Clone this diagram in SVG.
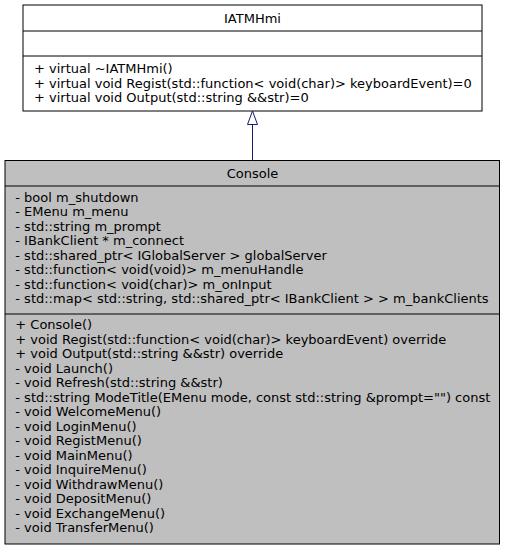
<svg xmlns="http://www.w3.org/2000/svg" width="505" height="551" viewBox="0 0 505 551">
<style>
text{font-family:"DejaVu Sans",sans-serif;font-size:13px;fill:#000}
.c{text-anchor:middle}
.box{stroke:#000;stroke-width:1}
.edge{stroke:#191970;stroke-width:1;fill:none}
</style>
<rect width="505" height="551" fill="#fff"/>
<g id="IATMHmi">
<rect class="box" x="23" y="5" width="459" height="106" fill="#fff"/>
<line class="box" x1="23" y1="31" x2="482" y2="31"/>
<line class="box" x1="23" y1="56" x2="482" y2="56"/>
<text class="c" x="252.5" y="22.5">IATMHmi</text>
<text x="34" y="73">+ virtual ~IATMHmi()</text>
<text x="34" y="87.5">+ virtual void Regist(std::function&lt; void(char)&gt; keyboardEvent)=0</text>
<text x="34" y="102">+ virtual void Output(std::string &amp;&amp;str)=0</text>
</g>
<g id="Console">
<rect class="box" x="5" y="160.5" width="494.5" height="383.5" fill="#bfbfbf"/>
<line class="box" x1="5" y1="186" x2="499.5" y2="186"/>
<line class="box" x1="5" y1="314" x2="499.5" y2="314"/>
<text class="c" x="252.5" y="177.5">Console</text>
<text x="15.3" y="201.5">- bool m_shutdown</text>
<text x="15.3" y="216">- EMenu m_menu</text>
<text x="15.3" y="230.5">- std::string m_prompt</text>
<text x="15.3" y="245">- IBankClient * m_connect</text>
<text x="15.3" y="259.5">- std::shared_ptr&lt; IGlobalServer &gt; globalServer</text>
<text x="15.3" y="274">- std::function&lt; void(void)&gt; m_menuHandle</text>
<text x="15.3" y="288.5">- std::function&lt; void(char)&gt; m_onInput</text>
<text x="15.3" y="303">- std::map&lt; std::string, std::shared_ptr&lt; IBankClient &gt; &gt; m_bankClients</text>
<text x="15.3" y="329">+ Console()</text>
<text x="15.3" y="343.5">+ void Regist(std::function&lt; void(char)&gt; keyboardEvent) override</text>
<text x="15.3" y="358">+ void Output(std::string &amp;&amp;str) override</text>
<text x="15.3" y="372.5">- void Launch()</text>
<text x="15.3" y="387">- void Refresh(std::string &amp;&amp;str)</text>
<text x="15.3" y="401.5">- std::string ModeTitle(EMenu mode, const std::string &amp;prompt="") const</text>
<text x="15.3" y="416">- void WelcomeMenu()</text>
<text x="15.3" y="430.5">- void LoginMenu()</text>
<text x="15.3" y="445">- void RegistMenu()</text>
<text x="15.3" y="459.5">- void MainMenu()</text>
<text x="15.3" y="474">- void InquireMenu()</text>
<text x="15.3" y="488.5">- void WithdrawMenu()</text>
<text x="15.3" y="503">- void DepositMenu()</text>
<text x="15.3" y="517.5">- void ExchangeMenu()</text>
<text x="15.3" y="532">- void TransferMenu()</text>
</g>
<g id="connectors">
<line class="edge" x1="252.5" y1="160.5" x2="252.5" y2="124.5"/>
<polygon class="edge" points="247.5,124.5 252.5,111 257.5,124.5" style="fill:#fff"/>
</g>
</svg>
